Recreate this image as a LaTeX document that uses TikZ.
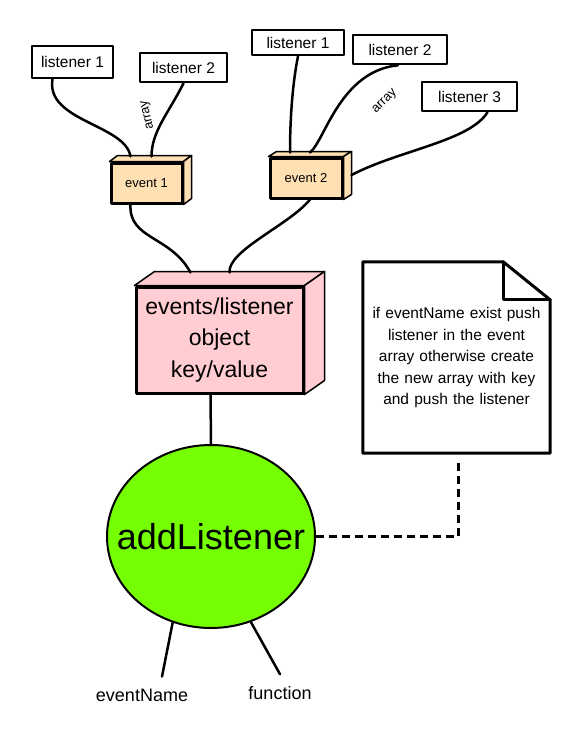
\documentclass[tikz,border=0pt]{standalone}
\usepackage{fontspec}
\setmainfont{Liberation Sans}
\usetikzlibrary{shapes.geometric}
\definecolor{peach}{RGB}{255,224,178}
\definecolor{rose}{RGB}{255,205,210}
\definecolor{lime}{RGB}{118,255,3}

\begin{document}
\begin{tikzpicture}[line cap=round,line join=round,x=1pt,y=-1pt,
    lbox/.style={draw,line width=2.5pt,fill=white,inner sep=0pt,font=\fontsize{15.5}{18}\selectfont},
    evbox/.style={draw,line width=3pt,fill=peach,inner sep=0pt,minimum width=71pt,minimum height=40pt,font=\fontsize{13}{16}\selectfont},
    face/.style={draw,line width=1.5pt},
    wire/.style={line width=2.5pt},
    link/.style={line width=2.5pt,line cap=butt,dash pattern=on 8pt off 5pt},
    tag/.style={inner sep=0pt,font=\fontsize{13}{15}\selectfont},
    word/.style={inner sep=0pt,font=\fontsize{18}{22}\selectfont}]
      \useasboundingbox (0,0) rectangle (579,755);

      \node[lbox,minimum width=81pt,minimum height=32pt] (lsA) at (72.5,62) {listener 1};
      \node[lbox,minimum width=87pt,minimum height=29pt] (lsB) at (183.5,67.5) {listener 2};
      \node[evbox] (evA) at (146.5,183) {event 1};

      \node[lbox,minimum width=92pt,minimum height=25pt] (lsC) at (298,42.5) {listener 1};
      \node[lbox,minimum width=94pt,minimum height=29pt] (lsD) at (400,49.5) {listener 2};
      \node[lbox,minimum width=95pt,minimum height=29pt] (lsE) at (469.5,96.5) {listener 3};
      \node[evbox,minimum width=72pt] (evB) at (306,178) {event 2};

      \node[draw,line width=3pt,fill=rose,minimum width=167pt,minimum height=106pt,inner sep=0pt,
            align=center,font=\fontsize{23}{31.5}\selectfont] (store) at (219.5,340) {events/listener\\object\\key/value};

      \node[ellipse,draw,line width=2pt,fill=lime,minimum width=208pt,minimum height=183pt,inner sep=0pt,
            font=\fontsize{36}{40}\selectfont] (add) at (211,536.5) {\makebox[0pt]{addListener}};

      \node[align=center,text width=180pt,minimum width=187pt,minimum height=191pt,inner sep=0pt,
            font=\fontsize{15.5}{21.5}\selectfont] (note) at (456.5,357.5)
            {if eventName exist push\\listener in the event\\array otherwise create\\the new array with key\\and push the listener};

      \node[word] (en) at (142,695) {eventName};
      \node[word] (fn) at (280,693) {function};

      \node[tag,rotate=103] (arA) at (148,115) {array};
      \node[tag,rotate=45] (arB) at (385,102) {array};

      % boxes drawn as blocks
      \foreach \n/\dx/\dy/\c in {evA/8/6/peach,evB/8/5/peach,store/20/14/rose}{
        \filldraw[face,fill=\c] (\n.north west) -- (\n.north east) -- ++(\dx,-\dy) -- ([shift={(\dx,-\dy)}]\n.north west) -- cycle;
        \filldraw[face,fill=\c] (\n.north east) -- (\n.south east) -- ++(\dx,-\dy) -- ([shift={(\dx,-\dy)}]\n.north east) -- cycle;
      }

      \draw[line width=3pt] (note.north west) -- ([xshift=-47pt]note.north east) -- ([yshift=-38pt]note.north east)
                -- (note.south east) -- (note.south west) -- cycle;
      \draw[line width=3pt] ([xshift=-47pt]note.north east) -- ([xshift=-47pt,yshift=-38pt]note.north east)
                -- ([yshift=-38pt]note.north east);

      \draw[wire] ([xshift=-20pt]lsA.south) .. controls +(-7,42) and +(-5,-32) .. ([xshift=-16pt,yshift=5pt]evA.north);
      \draw[wire] (lsB.south) .. controls +(-15,30) and +(0,-25) .. ([xshift=5pt,yshift=5pt]evA.north);
      \draw[wire] (lsC.south) .. controls +(-6,30) and +(0,-30) .. ([xshift=-16pt,yshift=4pt]evB.north);
      \draw[wire] ([xshift=-2pt]lsD.south) .. controls +(-58,6) and +(15,-12) .. ([xshift=4pt,yshift=4pt]evB.north);
      \draw[wire] ([xshift=18pt]lsE.south) .. controls +(-18,29) and +(48,-25) .. ([xshift=8pt,yshift=3pt]evB.east);

      \draw[wire] ([xshift=-16pt]evA.south) .. controls +(-2,35) and +(-20,-37) .. ([xshift=-29pt,yshift=13pt]store.north);
      \draw[wire] ([xshift=4pt]evB.south) .. controls +(-20,25) and +(-2,-22) .. ([xshift=10pt,yshift=13pt]store.north);
      \draw[wire] ([xshift=-9pt]store.south) -- (add.north);

      \draw[wire] (add.-114) -- ([xshift=20pt,yshift=12pt]en.north);
      \draw[wire] (add.-65) -- ([yshift=12pt]fn.north);
      \draw[link] (add.east) -| ([xshift=2pt,yshift=-5pt]note.south);
\end{tikzpicture}
\end{document}
